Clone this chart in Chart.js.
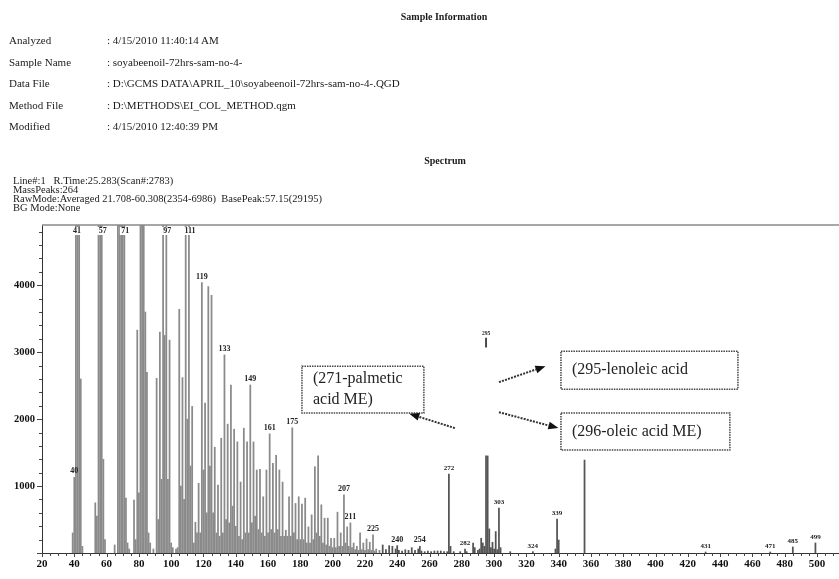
<!DOCTYPE html>
<html>
<head>
<meta charset="utf-8">
<script src="https://cdn.jsdelivr.net/npm/chart.js"></script>
<style>
  html, body { margin: 0; padding: 0; background: #fff; }
  #wrap { position: relative; width: 839px; height: 579px; background: #fff; overflow: hidden; }
  #wrap canvas { position: absolute; left: 0; top: 0; }
  .t { position: absolute; font-family: "Liberation Serif", "DejaVu Serif", serif; color: #1a1a1a; white-space: pre; }
  .h { font-size: 10px; font-weight: bold; line-height: 12px; transform: translateX(-50%); }
  .r { font-size: 11px; line-height: 12px; }
  .s { font-size: 10.5px; line-height: 9px; }
</style>
</head>
<body>
<div id="wrap">
  <canvas id="c" width="839" height="579"></canvas>
  <div class="t h" style="left:444px; top:11px;">Sample Information</div>
  <div class="t r" style="left:9px; top:34px;">Analyzed</div>
  <div class="t r" style="left:107px; top:34px;">: 4/15/2010 11:40:14 AM</div>
  <div class="t r" style="left:9px; top:56px;">Sample Name</div>
  <div class="t r" style="left:107px; top:56px;">: soyabeenoil-72hrs-sam-no-4-</div>
  <div class="t r" style="left:9px; top:77px;">Data File</div>
  <div class="t r" style="left:107px; top:77px;">: D:\GCMS DATA\APRIL_10\soyabeenoil-72hrs-sam-no-4-.QGD</div>
  <div class="t r" style="left:9px; top:99px;">Method File</div>
  <div class="t r" style="left:107px; top:99px;">: D:\METHODS\EI_COL_METHOD.qgm</div>
  <div class="t r" style="left:9px; top:120px;">Modified</div>
  <div class="t r" style="left:107px; top:120px;">: 4/15/2010 12:40:39 PM</div>
  <div class="t h" style="left:445px; top:155px;">Spectrum</div>
  <div class="t s" style="left:13px; top:176px;">Line#:1   R.Time:25.283(Scan#:2783)</div>
  <div class="t s" style="left:13px; top:185px;">MassPeaks:264</div>
  <div class="t s" style="left:13px; top:194px;">RawMode:Averaged 21.708-60.308(2354-6986)  BasePeak:57.15(29195)</div>
  <div class="t s" style="left:13px; top:203px;">BG Mode:None</div>
</div>
<script>
// ---- data (m/z and intensity) ----
const masses = [39,40,41,42,43,44,45,
  53,54,55,56,57,58,59,
  65,67,68,69,70,71,72,73,74,
  77,78,79,80,81,82,83,84,85,86,87,89,
  91,92,93,94,95,96,97,98,99,100,101,
  103,104,105,106,107,108,109,110,111,112,113,
  114,115,116,117,118,119,120,121,122,123,124,125,126,127,128,129,130,
  131,132,133,134,135,136,137,138,139,140,141,142,143,144,145,146,147,148,149,150,
  151,152,153,154,155,156,157,158,159,160,161,162,163,164,165,166,167,168,169,170,
  171,172,173,174,175,176,177,178,179,180,181,182,183,184,185,186,187,188,189,190,
  191,192,193,194,195,196,197,198,199,200,201,202,203,204,205,206,207,208,209,210,
  211,212,213,214,215,216,217,218,219,220,221,222,223,224,225,226,227,229,231,233,
  235,237,239,240,241,243,245,247,249,251,253,254,255,257,259,261,263,265,267,269,
  271,272,273,275,279,282,283,287,288,290,291,292,293,294,295,296,297,298,299,300,
  301,302,303,304,310,324,338,339,340,356,431,471,485,499];
const intensities = [300,1130,14000,6000,18000,2600,100,
  750,550,16000,7000,29195,1400,200,
  120,9000,6000,14000,6000,11000,820,150,60,
  790,200,3330,900,9000,5500,8500,3600,2700,300,150,60,
  2610,500,3300,1100,8000,3250,9000,1100,3180,150,80,
  60,80,3640,1000,2620,800,6000,2000,7000,1300,2190,
  150,460,300,1040,300,4040,1240,2240,600,3980,1300,3850,600,1580,300,1015,250,
  1715,300,2960,500,1925,450,2510,700,1850,400,1660,250,1060,200,1865,300,1660,300,2510,450,
  1660,550,1240,350,1250,300,840,250,1240,300,1780,350,1340,300,1460,350,1240,250,1060,250,
  340,250,840,250,1870,300,740,200,840,200,730,200,820,150,390,150,570,200,1290,300,
  1450,250,720,150,520,120,520,100,220,80,220,80,610,100,300,100,870,150,390,100,
  450,80,150,50,100,40,300,50,150,40,210,50,160,40,270,30,60,40,120,50,
  110,100,60,110,40,30,50,40,80,40,60,100,30,20,30,20,30,30,30,20,
  20,1180,100,20,20,60,20,150,80,40,60,220,150,100,1450,1450,360,80,160,60,
  320,50,670,80,20,20,60,507,194,1388,15,15,90,150];
// upper visible piece of the 295 peak (middle of it is blanked in the print)
const splitMasses = [295];
const splitLow = [3075];
const splitHigh = [3210];
// peaks carrying a mass label
const labelledPeaks = [40,41,57,71,97,111,119,133,149,161,175,207,211,225,240,254,272,282,295,303,324,339,431,471,485,499];
// axis ticks
const xTickValues = [20,40,60,80,100,120,140,160,180,200,220,240,260,280,300,320,340,360,380,400,420,440,460,480,500];
const yTickValues = [0,1000,2000,3000,4000];
const xMinorStep = 5, yMinorStep = 200;
const xMin = 20, xMax = 513.6, yMin = 0, yMax = 4900;

// ---- annotation layout (in data units) ----
const notes = {
  boxes: [
    { x0: 181.0, x1: 256.5, y0: 2791, y1: 2090, lines: ['(271-palmetic', 'acid ME)'] },
    { x0: 341.4, x1: 451.0, y0: 3015, y1: 2448, lines: ['(295-lenoleic acid'] },
    { x0: 341.4, x1: 446.0, y0: 2090, y1: 1537, lines: ['(296-oleic acid ME)'] }
  ],
  arrows: [
    { from: [275.7, 1866], to: [247.5, 2080] },
    { from: [303.0, 2552], to: [331.8, 2791] },
    { from: [303.0, 2104], to: [339.8, 1866] }
  ]
};

const mainPoints = masses.map((m, i) => ({ x: m, y: intensities[i] }));
const splitPoints = splitMasses.map((m, i) => ({ x: m, y: [splitLow[i], splitHigh[i]] }));

function topOf(m) {
  let v = 0;
  masses.forEach((mm, i) => { if (mm === m) v = Math.max(v, intensities[i]); });
  splitMasses.forEach((mm, i) => { if (mm === m) v = Math.max(v, splitHigh[i]); });
  return v;
}

const SERIF = '"Liberation Serif", "DejaVu Serif", serif';

const decor = {
  id: 'decor',
  afterDatasetsDraw(chart) {
    const { ctx, chartArea: a, scales: { x, y } } = chart;
    ctx.save();
    // top frame line
    ctx.strokeStyle = '#8a8a8a';
    ctx.lineWidth = 1.5;
    ctx.beginPath(); ctx.moveTo(a.left, a.top); ctx.lineTo(a.right, a.top); ctx.stroke();
    // x minor/major ticks
    ctx.strokeStyle = '#444'; ctx.lineWidth = 1;
    for (let v = xMin; v <= xMax; v += xMinorStep) {
      const px = Math.round(x.getPixelForValue(v)) + 0.5;
      const len = xTickValues.includes(v) ? 4 : 3;
      ctx.beginPath(); ctx.moveTo(px, a.bottom); ctx.lineTo(px, a.bottom + len); ctx.stroke();
    }
    // y minor/major ticks
    for (let v = yMin; v <= yMax; v += yMinorStep) {
      const py = Math.round(y.getPixelForValue(v)) + 0.5;
      const len = yTickValues.includes(v) ? 5 : 3;
      ctx.beginPath(); ctx.moveTo(a.left - len, py); ctx.lineTo(a.left, py); ctx.stroke();
    }
    // peak labels
    ctx.textAlign = 'center';
    ctx.textBaseline = 'middle';
    labelledPeaks.forEach(m => {
      const px = x.getPixelForValue(m);
      const v = topOf(m);
      let size = 8;
      if (m >= 272) size = 7;
      if (m === 295) size = 5.5;
      ctx.font = 'bold ' + size + 'px ' + SERIF;
      if (v >= yMax) {
        const py = a.top + 6;
        const w = ctx.measureText(String(m)).width;
        ctx.fillStyle = '#fff';
        ctx.fillRect(px - w / 2 - 0.5, py - size / 2, w + 1, size);
        ctx.fillStyle = '#222';
        ctx.fillText(String(m), px + 1, py);
      } else {
        const py = y.getPixelForValue(v) - size / 2 - 2;
        ctx.fillStyle = '#222';
        ctx.fillText(String(m), px, py);
      }
    });
    // annotation boxes
    notes.boxes.forEach(b => {
      const x0 = x.getPixelForValue(b.x0), x1 = x.getPixelForValue(b.x1);
      const y0 = y.getPixelForValue(b.y0), y1 = y.getPixelForValue(b.y1);
      ctx.fillStyle = '#fff';
      ctx.fillRect(x0, y0, x1 - x0, y1 - y0);
      ctx.setLineDash([1.5, 1]);
      ctx.strokeStyle = '#444';
      ctx.lineWidth = 1.5;
      ctx.strokeRect(x0, y0, x1 - x0, y1 - y0);
      ctx.setLineDash([]);
      ctx.fillStyle = '#222';
      ctx.font = '16px ' + SERIF;
      ctx.textAlign = 'left';
      ctx.textBaseline = 'middle';
      const n = b.lines.length;
      const lh = 21;
      const cy = (y0 + y1) / 2;
      b.lines.forEach((t, i) => {
        ctx.fillText(t, x0 + 11, cy + (i - (n - 1) / 2) * lh);
      });
    });
    // arrows
    notes.arrows.forEach(ar => {
      const fx = x.getPixelForValue(ar.from[0]), fy = y.getPixelForValue(ar.from[1]);
      const tx = x.getPixelForValue(ar.to[0]), ty = y.getPixelForValue(ar.to[1]);
      const ang = Math.atan2(ty - fy, tx - fx);
      const hl = 10, hw = 4;
      const bx = tx - hl * Math.cos(ang), by = ty - hl * Math.sin(ang);
      ctx.strokeStyle = '#333';
      ctx.lineWidth = 2;
      ctx.setLineDash([2, 1.2]);
      ctx.beginPath(); ctx.moveTo(fx, fy); ctx.lineTo(bx, by); ctx.stroke();
      ctx.setLineDash([]);
      ctx.fillStyle = '#111';
      ctx.beginPath();
      ctx.moveTo(tx, ty);
      ctx.lineTo(bx + hw * Math.sin(ang), by - hw * Math.cos(ang));
      ctx.lineTo(bx - hw * Math.sin(ang), by + hw * Math.cos(ang));
      ctx.closePath(); ctx.fill();
    });
    ctx.restore();
  }
};

new Chart(document.getElementById('c'), {
  type: 'bar',
  data: {
    datasets: [
      {
        data: mainPoints,
        grouped: false,
        barThickness: 1.1,
        backgroundColor: c => (c.raw && c.raw.x >= 230 ? '#555' : '#8a8a8a'),
        borderWidth: 0
      },
      {
        data: splitPoints,
        grouped: false,
        barThickness: 1.1,
        backgroundColor: '#333',
        borderWidth: 0
      }
    ]
  },
  options: {
    responsive: false,
    animation: false,
    devicePixelRatio: 1,
    layout: { padding: { top: 225, right: 0, left: 0, bottom: 0 } },
    plugins: { legend: { display: false }, tooltip: { enabled: false }, title: { display: false } },
    scales: {
      x: {
        type: 'linear',
        min: xMin, max: xMax,
        offset: false,
        grid: { display: false, drawTicks: false, offset: false },
        border: { display: true, color: '#333', width: 1 },
        afterBuildTicks(s) { s.ticks = xTickValues.map(v => ({ value: v })); },
        ticks: {
          autoSkip: false, maxRotation: 0,
          padding: 5, color: '#111',
          font: { family: SERIF, size: 11, weight: 'bold' }
        },
        afterFit(s) { s.height = 26; }
      },
      y: {
        min: yMin, max: yMax,
        grid: { display: false, drawTicks: false },
        border: { display: true, color: '#333', width: 1 },
        afterBuildTicks(s) { s.ticks = yTickValues.map(v => ({ value: v })); },
        ticks: {
          padding: 7, color: '#111', autoSkip: false,
          font: { family: SERIF, size: 10.5, weight: 'bold' },
          callback: v => (v === 0 ? '' : String(v))
        },
        afterFit(s) { s.width = 42; }
      }
    }
  },
  plugins: [decor]
});
</script>
</body>
</html>
